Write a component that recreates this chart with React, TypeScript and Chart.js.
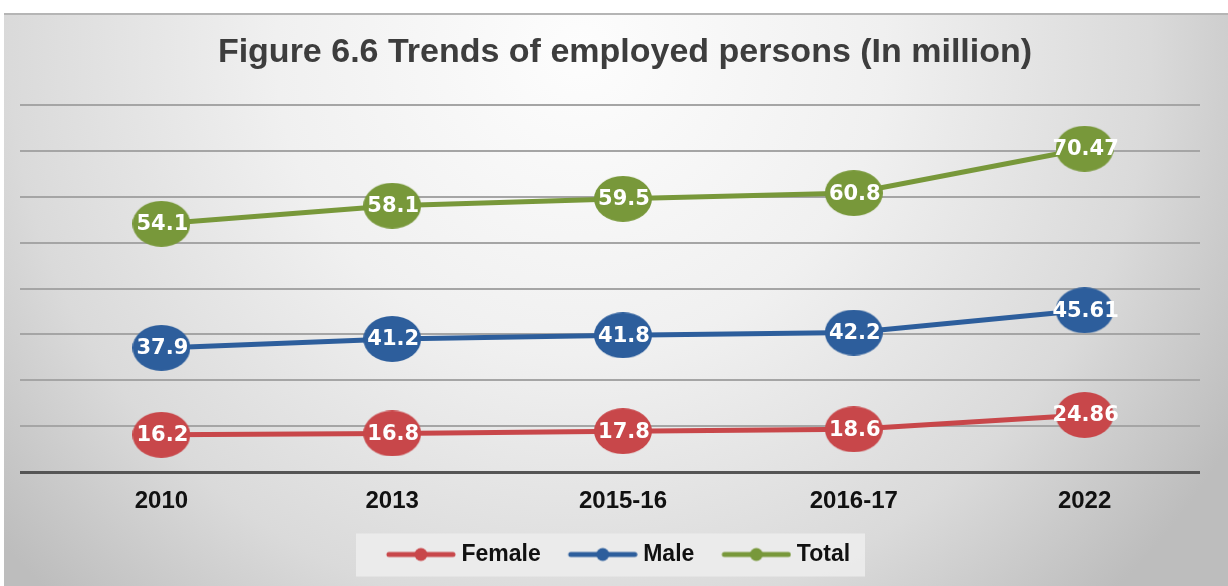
import React, { useEffect, useRef } from 'react';
import { Chart, registerables } from 'chart.js';

Chart.register(...registerables);

const categories = ['2010', '2013', '2015-16', '2016-17', '2022'];
const female = [16.2, 16.8, 17.8, 18.6, 24.86];
const male = [37.9, 41.2, 41.8, 42.2, 45.61];
const total = [54.1, 58.1, 59.5, 60.8, 70.47];
const seriesNames = ['Female', 'Male', 'Total'];
const seriesColors = ['#C8474A', '#2D5E9C', '#78983A'];
const yMax = 160;
const yStep = 20;
const titleText = 'Figure 6.6 Trends of employed persons (In million)';

function makeEllipse(color: string) {
  const c = document.createElement('canvas');
  c.width = 58;
  c.height = 46;
  const g = c.getContext('2d')!;
  g.fillStyle = color;
  g.beginPath();
  g.ellipse(29, 23, 29, 23, 0, 0, Math.PI * 2);
  g.fill();
  return c;
}

function makeLegendMarker(color: string) {
  const c = document.createElement('canvas');
  c.width = 90;
  c.height = 16;
  const g = c.getContext('2d')!;
  g.strokeStyle = color;
  g.lineWidth = 5;
  g.lineCap = 'round';
  g.beginPath();
  g.moveTo(23, 8);
  g.lineTo(87, 8);
  g.stroke();
  g.fillStyle = color;
  g.beginPath();
  g.arc(55, 8, 6.5, 0, Math.PI * 2);
  g.fill();
  return c;
}

export default function App() {
  const ref = useRef<HTMLCanvasElement>(null);

  useEffect(() => {
    if (!ref.current) return;
    const ellipses = seriesColors.map(makeEllipse);
    const legendMarkers = seriesColors.map(makeLegendMarker);
    const seriesData = [female, male, total];

    const bgPlugin = {
      id: 'bg',
      beforeDraw(chart: any) {
        const { ctx, width, height } = chart;
        ctx.save();
        ctx.fillStyle = '#ffffff';
        ctx.fillRect(0, 0, width, height);
        const grad = ctx.createRadialGradient(580, 50, 0, 580, 50, 760);
        grad.addColorStop(0, '#fdfdfd');
        grad.addColorStop(0.4, '#f0f0f0');
        grad.addColorStop(0.75, '#dadada');
        grad.addColorStop(1, '#bdbdbd');
        ctx.fillStyle = grad;
        ctx.fillRect(4, 13, width - 4, height - 13);
        ctx.strokeStyle = '#b5b5b5';
        ctx.lineWidth = 2;
        ctx.beginPath();
        ctx.moveTo(4, 14);
        ctx.lineTo(width, 14);
        ctx.stroke();
        const hb = chart.legend && chart.legend.legendHitBoxes;
        if (hb && hb.length) {
          const first = hb[0];
          const last = hb[hb.length - 1];
          const left = first.left - 16;
          const right = last.left + last.width + 15;
          const cy = first.top + first.height / 2;
          ctx.fillStyle = 'rgba(236,236,236,0.9)';
          ctx.fillRect(left, cy - 21, right - left, 43);
        }
        ctx.fillStyle = '#3d3d3d';
        ctx.font = 'bold 34px "Liberation Sans", Arial, sans-serif';
        ctx.textAlign = 'center';
        ctx.textBaseline = 'middle';
        ctx.fillText(titleText, 625, 53);
        ctx.restore();
      },
    };

    const labelPlugin = {
      id: 'valueLabels',
      afterDatasetsDraw(chart: any) {
        const ctx = chart.ctx;
        ctx.save();
        ctx.font = 'bold 21px "DejaVu Sans", Verdana, sans-serif';
        ctx.fillStyle = '#ffffff';
        ctx.textAlign = 'center';
        ctx.textBaseline = 'middle';
        chart.data.datasets.forEach((ds: any, i: number) => {
          const meta = chart.getDatasetMeta(i);
          meta.data.forEach((pt: any, j: number) => {
            ctx.fillText(String(ds.data[j]), pt.x + 1, pt.y + 1);
          });
        });
        ctx.restore();
      },
    };

    const chart = new Chart(ref.current, {
      type: 'line',
      data: {
        labels: categories,
        datasets: seriesNames.map((name, i) => ({
          label: name,
          data: seriesData[i],
          borderColor: seriesColors[i],
          backgroundColor: seriesColors[i],
          borderWidth: 5,
          pointStyle: ellipses[i] as any,
          pointRadius: 23,
          pointHoverRadius: 23,
          tension: 0,
          fill: false,
          clip: false as any,
        })),
      },
      options: {
        responsive: false,
        animation: false,
        events: [],
        layout: { padding: { top: 105, left: 20, right: 26, bottom: 10 } },
        plugins: {
          title: { display: false },
          tooltip: { enabled: false },
          legend: {
            position: 'bottom',
            labels: {
              usePointStyle: true,
              pointStyleWidth: 78,
              padding: 13,
              color: '#111111',
              font: { family: '"Liberation Sans", Arial, sans-serif', size: 23, weight: 'bold' },
              generateLabels: (c: any) => {
                const items = (Chart.defaults.plugins.legend.labels as any).generateLabels(c);
                return items.map((it: any, i: number) => ({
                  ...it,
                  pointStyle: legendMarkers[i],
                  fontColor: '#111111',
                }));
              },
            },
          },
        },
        scales: {
          x: {
            offset: true,
            grid: { display: false, drawTicks: false },
            border: { display: false },
            afterFit: (scale: any) => {
              scale.height = 58;
            },
            ticks: {
              padding: 15,
              color: '#111111',
              font: { family: '"Liberation Sans", Arial, sans-serif', size: 24, weight: 'bold' },
            },
          },
          y: {
            stacked: true,
            min: 0,
            max: yMax,
            border: { display: false },
            ticks: { stepSize: yStep, display: false },
            grid: {
              tickLength: 26,
              color: (ctx: any) => (ctx.tick && ctx.tick.value === 0 ? '#555555' : '#a5a5a5'),
              lineWidth: (ctx: any) => (ctx.tick && ctx.tick.value === 0 ? 3 : 2),
            },
          },
        },
      },
      plugins: [bgPlugin, labelPlugin],
    });

    return () => chart.destroy();
  }, []);

  return (
    <div style={{ position: 'absolute', left: 0, top: 0, width: 1228, height: 586 }}>
      <canvas ref={ref} width={1228} height={586} style={{ display: 'block' }} />
    </div>
  );
}
